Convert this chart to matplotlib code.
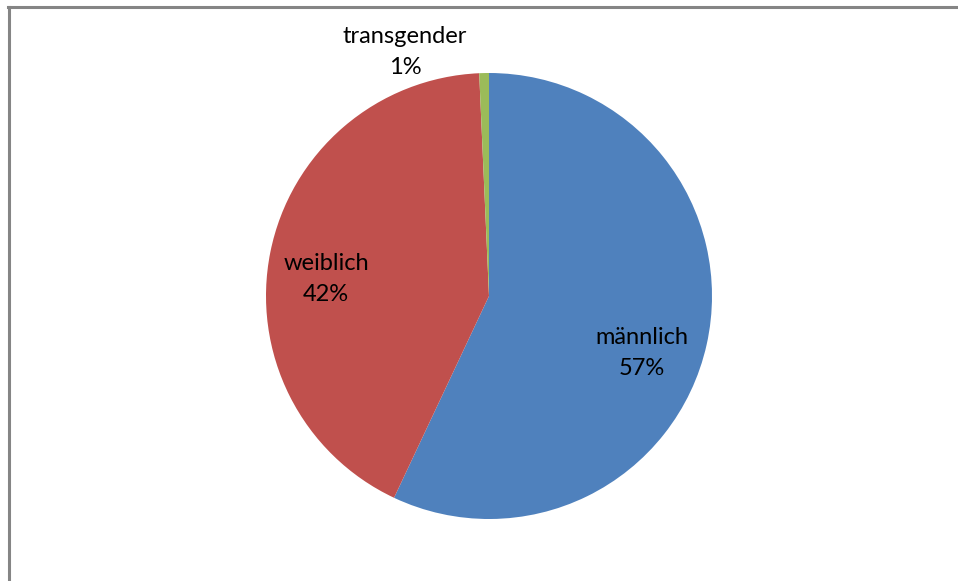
import numpy as np
import matplotlib.pyplot as plt
from matplotlib.lines import Line2D

# Geschlechterverteilung
labels = ["männlich", "weiblich", "transgender"]
values = [57.0, 42.3, 0.7]
colors = ["#4F81BD", "#C0504D", "#9BBB59"]
# label centres (pixels from top-left)
label_pos = [(642, 353), (326, 279), (405, 52)]

W, H = 958, 581
fig = plt.figure(figsize=(W / 100, H / 100), dpi=100)
ax = fig.add_axes([0, 0, 1, 1])

center = (489, H - 296)
radius = 223
ax.pie(values, colors=colors, startangle=90, counterclock=False,
       center=center, radius=radius, frame=True,
       wedgeprops={"linewidth": 0})
ax.set_xlim(0, W)
ax.set_ylim(0, H)
ax.set_aspect("auto")
ax.axis("off")

total = sum(values)
for lab, v, (px, py) in zip(labels, values, label_pos):
    txt = f"{lab}\n{round(v / total * 100)}%"
    ax.text(px, H - py, txt, ha="center", va="center", fontsize=17,
            family="Lato", linespacing=1.6, color="black")

# grey frame (left and top only)
fig.add_artist(Line2D([8.5 / W, 8.5 / W], [0, 1 - 6.5 / H], transform=fig.transFigure,
                      color="#858585", lw=2.2))
fig.add_artist(Line2D([7.5 / W, 957 / W], [1 - 6.5 / H, 1 - 6.5 / H], transform=fig.transFigure,
                      color="#858585", lw=2.2))

fig.savefig("out.png", dpi=100)
